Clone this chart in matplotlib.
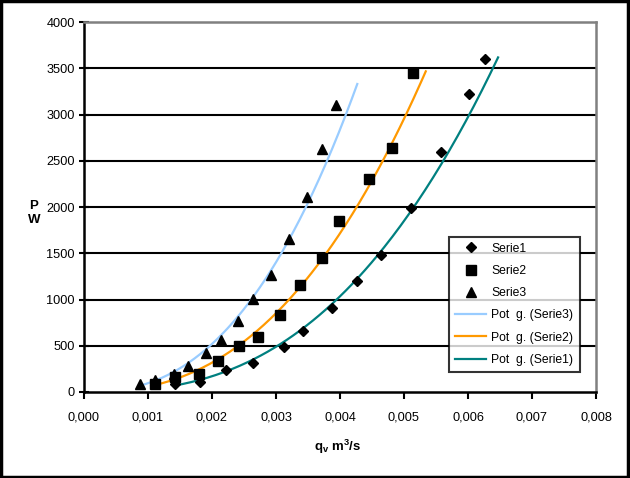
import numpy as np
import matplotlib
matplotlib.use("Agg")
from matplotlib import pyplot as plt
from matplotlib.patches import Rectangle

plt.rcParams['font.family'] = ['Liberation Sans', 'DejaVu Sans']

# measured points (q in m3/s, P in W)
q1 = [0.00142, 0.00181, 0.00222, 0.00264, 0.00313, 0.00342, 0.00388,
      0.00427, 0.00464, 0.00511, 0.00558, 0.00602, 0.00627]
p1 = [90, 110, 240, 310, 490, 660, 910, 1200, 1480, 1990, 2600, 3220, 3600]

q2 = [0.00111, 0.00142, 0.00180, 0.00209, 0.00242, 0.00272, 0.00306,
      0.00338, 0.00372, 0.00398, 0.00445, 0.00481, 0.00514]
p2 = [85, 160, 195, 335, 500, 595, 830, 1155, 1450, 1850, 2300, 2640, 3450]

q3 = [0.000875, 0.00111, 0.00141, 0.00163, 0.00191, 0.00214, 0.00241,
      0.00264, 0.00292, 0.00320, 0.00348, 0.00372, 0.00394]
p3 = [85, 130, 195, 280, 420, 560, 770, 1005, 1265, 1655, 2110, 2630, 3100]

# end of each trend line (forecast past last point)
trend_end = {"Serie1": 0.00647, "Serie2": 0.00534, "Serie3": 0.00427}

xticks = [0.000, 0.001, 0.002, 0.003, 0.004, 0.005, 0.006, 0.007, 0.008]
yticks = list(range(0, 4001, 500))


def power_fit(q, p, qend):
    b, loga = np.polyfit(np.log(q), np.log(p), 1)
    xs = np.linspace(min(q), qend, 200)
    return xs, np.exp(loga) * xs ** b


fig = plt.figure(figsize=(6.3, 4.78), dpi=100)
ax = fig.add_axes([84 / 630, 86 / 478, 512 / 630, 370 / 478])

for y in yticks[1:-1]:
    ax.axhline(y, color='black', lw=1.5, zorder=1)

h1, = ax.plot(q1, p1, 'D', color='black', ms=5.5, ls='none', label='Serie1', zorder=3)
h2, = ax.plot(q2, p2, 's', color='black', ms=6.5, ls='none', label='Serie2', zorder=3)
h3, = ax.plot(q3, p3, '^', color='black', ms=7, ls='none', label='Serie3', zorder=3)

x3, y3 = power_fit(q3, p3, trend_end["Serie3"])
x2, y2 = power_fit(q2, p2, trend_end["Serie2"])
x1, y1 = power_fit(q1, p1, trend_end["Serie1"])
t3, = ax.plot(x3, y3, color='#99ccff', lw=1.6, label='Pot  g. (Serie3)', zorder=2)
t2, = ax.plot(x2, y2, color='#ff9900', lw=1.6, label='Pot  g. (Serie2)', zorder=2)
t1, = ax.plot(x1, y1, color='#008080', lw=1.6, label='Pot  g. (Serie1)', zorder=2)

ax.set_xlim(0, 0.008)
ax.set_ylim(0, 4000)
ax.set_xticks(xticks)
ax.set_xticklabels([("%.3f" % v).replace('.', ',') for v in xticks])
ax.set_yticks(yticks)
ax.tick_params(axis='y', direction='inout', length=7, width=1.5, labelsize=9.2, pad=3)
ax.tick_params(axis='x', direction='out', length=5, width=1.5, labelsize=9.2, pad=9)

for s in ['left', 'bottom']:
    ax.spines[s].set_linewidth(1.8)
    ax.spines[s].set_color('black')
for s in ['top', 'right']:
    ax.spines[s].set_linewidth(1.8)
    ax.spines[s].set_color('#808080')

fig.text(34 / 630, 1 - 213 / 478, "P\nW", fontsize=9.5, fontweight='bold',
         ha='center', va='center', linespacing=1.3)
fig.text(338 / 630, 1 - 447 / 478, r"q$_\mathregular{v}$ m$^\mathregular{3}$/s", fontsize=9.5,
         fontweight='bold', ha='center', va='center')

leg = ax.legend(handles=[h1, h2, h3, t3, t2, t1], loc='lower left',
                bbox_to_anchor=((449 - 84) / 512, (392 - 372) / 370, 131 / 512, 137 / 370),
                mode='expand', frameon=True, fancybox=False, fontsize=8.7,
                handlelength=2.6, borderpad=0.5, labelspacing=0.85, handletextpad=0.4,
                borderaxespad=0)
leg.get_frame().set_edgecolor('black')
leg.get_frame().set_linewidth(1.5)

fig.patches.append(Rectangle((0.002, 0.003), 0.995, 0.994, transform=fig.transFigure,
                             fill=False, edgecolor='black', lw=2.5))

fig.savefig('out.png', dpi=100)
